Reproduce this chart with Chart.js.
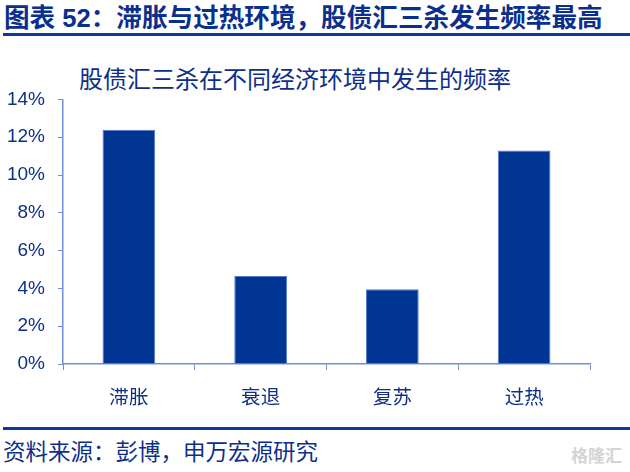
<!DOCTYPE html>
<html>
<head>
    <meta charset="utf-8">
    <title>股债汇三杀在不同经济环境中发生的频率</title>
    <script src="https://cdn.jsdelivr.net/npm/chart.js"></script>
    <style>
        html, body { margin: 0; padding: 0; background: #fff; }
        body { width: 630px; height: 472px; position: relative; overflow: hidden;
               font-family: "Liberation Sans", "Noto Sans CJK SC", sans-serif; color: #0d2f8a; }
        .head { position: absolute; left: 4px; top: 1px; font-size: 25.6px; font-weight: bold;
                color: #0a2f8c; white-space: nowrap; line-height: 34px; }
        .rule { position: absolute; left: 3px; right: 0; height: 3px; background: #0f3a9a; }
        .sub { position: absolute; left: 0; width: 590px; top: 64px; text-align: center;
               font-size: 24px; line-height: 32px; color: #0d2f8a; white-space: nowrap; }
        .foot { position: absolute; left: 3px; top: 438px; font-size: 22.5px; line-height: 30px;
                color: #0d2f8a; white-space: nowrap; }
        .mark { position: absolute; right: 8px; top: 442px; font-size: 17px; color: #d4d4d4;
                font-weight: bold; white-space: nowrap; }
        .chart-box { position: absolute; left: 0; top: 75px; width: 630px; height: 345px; }
    </style>
</head>
<body>
    <div class="head">图表 52：滞胀与过热环境，股债汇三杀发生频率最高</div>
    <div class="rule" style="top:33px"></div>
    <div class="sub">股债汇三杀在不同经济环境中发生的频率</div>
    <div class="chart-box"><canvas id="c"></canvas></div>
    <div class="rule" style="top:427px"></div>
    <div class="foot">资料来源：彭博，申万宏源研究</div>
    <div class="mark">格隆汇</div>

    <script>
        // 数据
        var categories = ['滞胀', '衰退', '复苏', '过热'];
        var frequency = [12.4, 4.66, 3.96, 11.29];   // %
        var yTicks = [0, 2, 4, 6, 8, 10, 12, 14];

        var axisColor = '#6f90d8';
        var textColor = '#0d2f8a';

        var ctx = document.getElementById('c').getContext('2d');
        new Chart(ctx, {
            type: 'bar',
            data: {
                labels: categories,
                datasets: [{
                    data: frequency,
                    backgroundColor: '#003594',
                    borderColor: '#5579cc',
                    borderWidth: 1,
                    categoryPercentage: 1,
                    barPercentage: 0.4
                }]
            },
            options: {
                responsive: true,
                maintainAspectRatio: false,
                animation: false,
                layout: { padding: { top: 0, right: 40, left: 0, bottom: 0 } },
                plugins: { legend: { display: false }, tooltip: { enabled: false } },
                scales: {
                    x: {
                        grid: { display: true, drawOnChartArea: false, drawTicks: true,
                                tickLength: 6, color: axisColor, offset: true },
                        border: { color: axisColor, width: 1.5 },
                        ticks: { color: textColor, padding: 15,
                                 font: { family: '"Noto Sans CJK SC", sans-serif', size: 19.5 } },
                        afterFit: function(s) { s.height = 56; }
                    },
                    y: {
                        min: 0,
                        max: 14,
                        afterBuildTicks: function(s) { s.ticks = yTicks.map(function(v) { return { value: v }; }); },
                        grid: { display: true, drawOnChartArea: false, drawTicks: true,
                                tickLength: 5, color: axisColor },
                        border: { color: axisColor, width: 1.5 },
                        ticks: { color: textColor, padding: 13,
                                 font: { family: '"Liberation Sans", Arial, sans-serif', size: 19 },
                                 callback: function(v) { return v + '%'; } },
                        afterFit: function(s) { s.width = 63; }
                    }
                }
            }
        });
    </script>
</body>
</html>
